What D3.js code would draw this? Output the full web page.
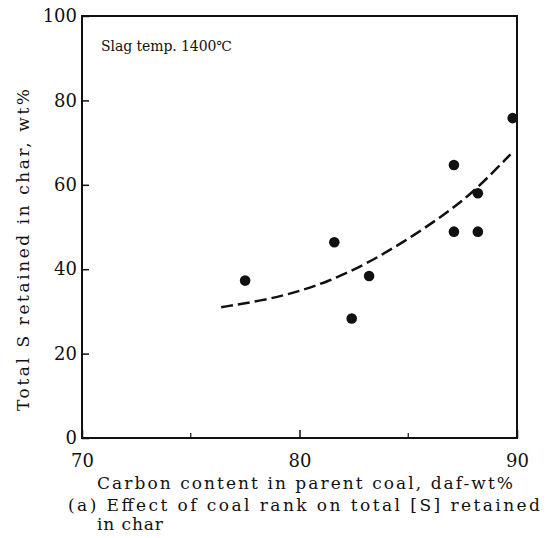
<!DOCTYPE html>
<html>
<head>
<meta charset="utf-8">
<script src="https://cdn.jsdelivr.net/npm/d3@7"></script>
<style>
  body { margin: 0; background: #fff; }
</style>
</head>
<body>
<div id="chart"></div>
<script>
var width = 546,
  height = 538,
  serif = "'DejaVu Serif', 'Liberation Serif', serif";

// carbon content (daf-wt%) and total S retained (wt%)
var carbon = [77.5, 81.6, 82.4, 83.2, 87.1, 87.1, 88.2, 88.2, 89.8];
var sulfur = [37.3, 46.4, 28.3, 38.4, 64.7, 48.9, 58.0, 48.9, 75.8];

// dashed trend curve
var curveX = [76.4, 78.2, 79.7, 81.3, 83.1, 84.8, 86.5, 88.0, 89.7];
var curveY = [31.0, 32.5, 34.3, 37.0, 41.3, 46.5, 52.3, 58.2, 67.2];

var xTicks = [70, 80, 90];
var xMinor = [75, 85];
var yTicks = [0, 20, 40, 60, 80, 100];

var svg = d3.select("#chart").append("svg")
  .attr("width", width)
  .attr("height", height);

var x = d3.scaleLinear().domain([70, 90]).range([82, 517]);
var y = d3.scaleLinear().domain([0, 100]).range([438, 16]);

// frame
svg.append("rect")
  .attr("x", x(70)).attr("y", y(100))
  .attr("width", x(90) - x(70)).attr("height", y(0) - y(100))
  .attr("fill", "none")
  .attr("stroke", "#111")
  .attr("stroke-width", 2);

// x axis
var xAxis = svg.append("g")
  .attr("transform", "translate(0," + y(0) + ")")
  .call(d3.axisBottom(x).tickValues(xTicks).tickSizeInner(-8).tickSizeOuter(0).tickPadding(14));
xAxis.select(".domain").remove();
xAxis.selectAll("line").attr("stroke", "#111").attr("stroke-width", 1.5);
xAxis.selectAll("text")
  .style("font-family", serif).style("font-size", "18px")
  .attr("fill", "#111").attr("dy", "0.85em");

svg.append("g").selectAll("line")
  .data(xMinor)
  .enter().append("line")
  .attr("x1", function (d) { return x(d); })
  .attr("x2", function (d) { return x(d); })
  .attr("y1", y(0))
  .attr("y2", y(0) - 5)
  .attr("stroke", "#111")
  .attr("stroke-width", 1.2);

// y axis
var yAxis = svg.append("g")
  .attr("transform", "translate(" + x(70) + ",0)")
  .call(d3.axisLeft(y).tickValues(yTicks).tickSizeInner(-7).tickSizeOuter(0).tickPadding(5));
yAxis.select(".domain").remove();
yAxis.selectAll("line").attr("stroke", "#111").attr("stroke-width", 1.5);
yAxis.selectAll("text")
  .style("font-family", serif).style("font-size", "18px")
  .attr("fill", "#111");

// trend curve
var line = d3.line()
  .x(function (d, i) { return x(curveX[i]); })
  .y(function (d, i) { return y(curveY[i]); })
  .curve(d3.curveBasis);

svg.append("path")
  .attr("d", line(curveX))
  .attr("fill", "none")
  .attr("stroke", "#111")
  .attr("stroke-width", 2.5)
  .attr("stroke-dasharray", "12,5");

// points
svg.append("g").selectAll("circle")
  .data(carbon)
  .enter().append("circle")
  .attr("cx", function (d) { return x(d); })
  .attr("cy", function (d, i) { return y(sulfur[i]); })
  .attr("r", 5.3)
  .attr("fill", "#111");

// texts
function label(px, py, len, size, str, rot) {
  var t = svg.append("text")
    .style("font-family", serif)
    .style("font-size", size + "px")
    .attr("fill", "#111")
    .attr("textLength", len)
    .attr("lengthAdjust", "spacing")
    .text(str);
  if (rot) t.attr("transform", "translate(" + px + "," + py + ") rotate(-90)");
  else t.attr("x", px).attr("y", py);
  return t;
}

label(101, 51, 131, 14, "Slag temp. 1400\u2103");
label(97, 489, 416, 17, "Carbon content in parent coal, daf-wt%");
label(68, 511, 472, 17, "(a) Effect of coal rank on total [S] retained");
label(97, 530, 66, 17, "in char");
label(29, 411, 322, 17, "Total S retained in char, wt%", true);
</script>
</body>
</html>
